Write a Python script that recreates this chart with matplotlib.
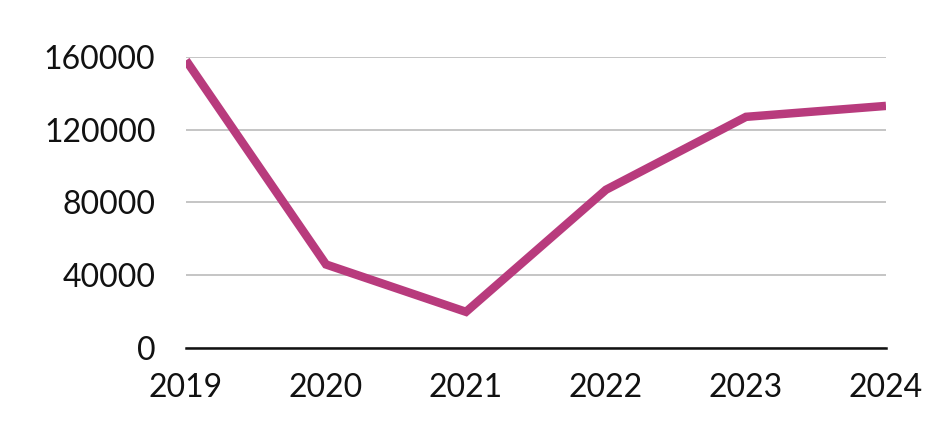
import matplotlib.pyplot as plt

years = [2019, 2020, 2021, 2022, 2023, 2024]
values = [158000, 46000, 20000, 87000, 127000, 133000]
yticks = [0, 40000, 80000, 120000, 160000]

plt.rcParams['font.family'] = ['Lato', 'DejaVu Sans']

fig = plt.figure(figsize=(9.4, 4.22), dpi=100)
ax = fig.add_axes([186 / 940, 1 - 348.3 / 422, 700 / 940, 291.6 / 422])

ax.plot(years, values, color='#b83b7d', linewidth=6.1,
        solid_capstyle='butt', solid_joinstyle='miter', zorder=3)

ax.set_xlim(years[0], years[-1])
ax.set_ylim(0, 160000)
ax.set_xticks(years)
ax.set_yticks(yticks)
ax.set_yticklabels([str(v) for v in yticks])

ax.grid(axis='y', color='#c0c0c0', linewidth=1.3)
ax.set_axisbelow(True)
for s in ['top', 'right', 'left']:
    ax.spines[s].set_visible(False)
ax.spines['bottom'].set_color('#111111')
ax.spines['bottom'].set_linewidth(1.8)
ax.spines['bottom'].set_zorder(4)

ax.tick_params(axis='both', length=0, labelsize=23, colors='#111111')
ax.tick_params(axis='y', pad=22)
ax.tick_params(axis='x', pad=18)

fig.savefig('out.png', dpi=100)
